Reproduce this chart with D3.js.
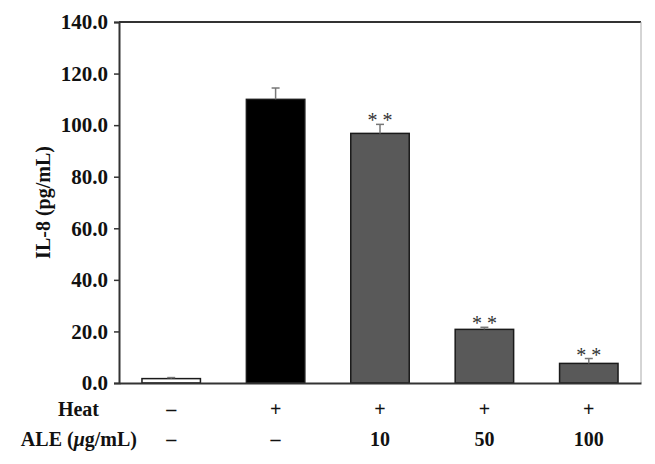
<!DOCTYPE html>
<html><head><meta charset="utf-8">
<script src="https://cdn.jsdelivr.net/npm/d3@7"></script>
<style>body{margin:0;background:#fff}svg{display:block}</style>
</head><body>
<script>
const groups = ["ctrl","heat","ale10","ale50","ale100"];
const values = [1.7, 110.0, 96.8, 20.8, 7.6];
const errors = [0.4, 4.4, 3.5, 0.8, 1.9];
const fills = ["#ffffff","#000000","#595959","#595959","#595959"];
const sig = ["", "", "* *", "* *", "* *"];
const heatRow = ["–","+","+","+","+"];
const aleRow = ["–","–","10","50","100"];
const yTicks = [0,20,40,60,80,100,120,140];

const W=655,H=464;
const m={left:119,right:641,top:22,bottom:383};
const svg=d3.select("body").append("svg").attr("width",W).attr("height",H);
const x=d3.scaleBand().domain(groups).range([m.left,m.right]).paddingInner(0.44).paddingOuter(0.22);
const y=d3.scaleLinear().domain([0,140]).range([m.bottom,m.top]);
const serif="Liberation Serif, serif";

// frame
svg.append("line").attr("x1",m.left).attr("x2",m.right).attr("y1",m.top).attr("y2",m.top).attr("stroke","#333").attr("stroke-width",2);
svg.append("line").attr("x1",m.right).attr("x2",m.right).attr("y1",m.top).attr("y2",m.bottom).attr("stroke","#aaa").attr("stroke-width",1);

// bars
svg.selectAll("rect.bar").data(groups).enter().append("rect")
 .attr("x",d=>x(d)).attr("width",x.bandwidth())
 .attr("y",(d,i)=>y(values[i])).attr("height",(d,i)=>y(0)-y(values[i]))
 .attr("fill",(d,i)=>fills[i]).attr("stroke","#1a1a1a").attr("stroke-width",1.5);

// error bars
const cx=d=>x(d)+x.bandwidth()/2;
svg.selectAll("line.err").data(groups).enter().append("line")
 .attr("x1",cx).attr("x2",cx).attr("y1",(d,i)=>y(values[i])).attr("y2",(d,i)=>y(values[i]+errors[i]))
 .attr("stroke","#777").attr("stroke-width",1.5);
svg.selectAll("line.cap").data(groups).enter().append("line")
 .attr("x1",d=>cx(d)-4).attr("x2",d=>cx(d)+4).attr("y1",(d,i)=>y(values[i]+errors[i])).attr("y2",(d,i)=>y(values[i]+errors[i]))
 .attr("stroke","#777").attr("stroke-width",1.5);

// significance
svg.selectAll("text.sig").data(groups).enter().append("text")
 .attr("x",cx).attr("y",(d,i)=>y(values[i]+errors[i])+3)
 .attr("text-anchor","middle").attr("font-family",serif).attr("font-size",20).attr("fill","#333")
 .text((d,i)=>sig[i]);

// y axis
const ya=svg.append("g").attr("transform",`translate(${m.left},0)`)
 .call(d3.axisLeft(y).tickValues(yTicks).tickFormat(d3.format(".1f")).tickSize(5).tickPadding(6));
ya.select(".domain").attr("stroke","#333").attr("stroke-width",2);
ya.selectAll(".tick line").attr("stroke","#333").attr("stroke-width",1.5);
ya.selectAll("text").attr("font-family",serif).attr("font-weight","bold").attr("font-size",21).attr("fill","#111");

// x axis baseline
const xa=svg.append("g").attr("transform",`translate(0,${m.bottom})`).call(d3.axisBottom(x).tickSize(0).tickFormat(""));
xa.select(".domain").attr("stroke","#333").attr("stroke-width",2);

// y title
svg.append("text").attr("transform",`translate(50,${(m.top+m.bottom)/2}) rotate(-90)`)
 .attr("text-anchor","middle").attr("font-family",serif).attr("font-weight","bold").attr("font-size",20).attr("fill","#111")
 .text("IL-8 (pg/mL)");

// rows
svg.append("text").attr("x",99).attr("y",416).attr("text-anchor","end").attr("font-family",serif).attr("font-weight","bold").attr("font-size",20).attr("fill","#111").text("Heat");
const ale=svg.append("text").attr("x",137).attr("y",446).attr("text-anchor","end").attr("font-family",serif).attr("font-weight","bold").attr("font-size",20).attr("fill","#111");
ale.append("tspan").text("ALE (");
ale.append("tspan").attr("font-style","italic").text("μ");
ale.append("tspan").text("g/mL)");

svg.selectAll("text.heat").data(groups).enter().append("text")
 .attr("x",cx).attr("y",416).attr("text-anchor","middle").attr("font-family",serif).attr("font-weight","bold").attr("font-size",20).attr("fill","#111")
 .text((d,i)=>heatRow[i]);
svg.selectAll("text.ale").data(groups).enter().append("text")
 .attr("x",cx).attr("y",446).attr("text-anchor","middle").attr("font-family",serif).attr("font-weight","bold").attr("font-size",20).attr("fill","#111")
 .text((d,i)=>aleRow[i]);
</script>
</body></html>
